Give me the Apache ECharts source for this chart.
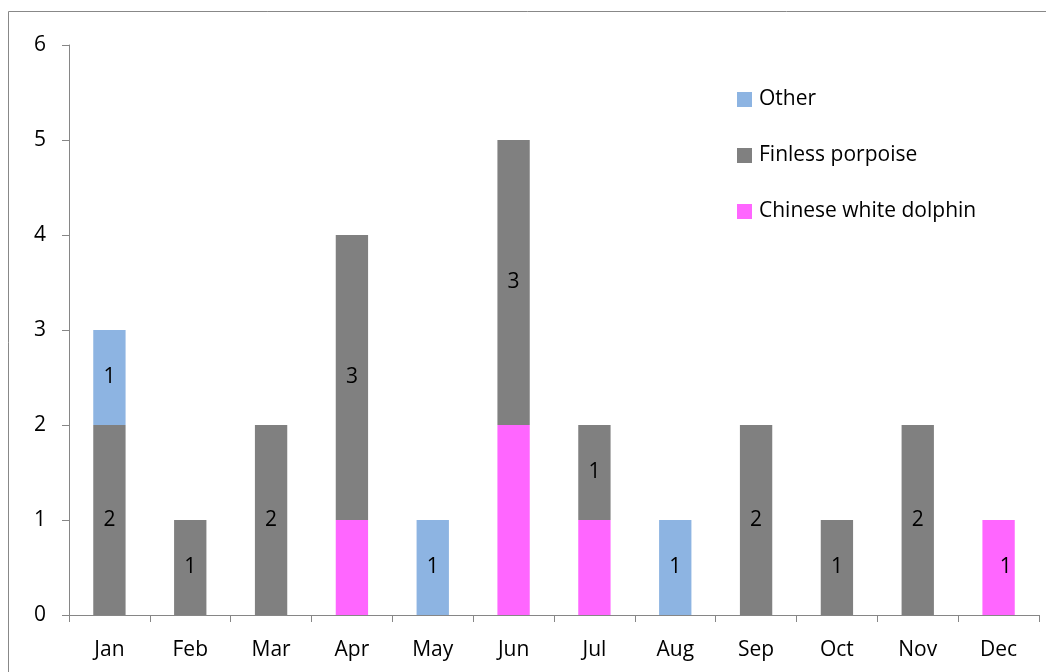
<!DOCTYPE html>
<html>
<head>
<meta charset="utf-8">
<script src="https://cdn.jsdelivr.net/npm/echarts@6/dist/echarts.min.js"></script>
<style>
  html, body { margin: 0; padding: 0; background: #fff; overflow: hidden; }
  #chart { width: 1046px; height: 672px; }
</style>
</head>
<body>
<div id="chart"></div>
<script>
const months = ['Jan', 'Feb', 'Mar', 'Apr', 'May', 'Jun', 'Jul', 'Aug', 'Sep', 'Oct', 'Nov', 'Dec']
const dolphin = [0, 0, 0, 1, 0, 2, 1, 0, 0, 0, 0, 1]
const porpoise = [2, 1, 2, 3, 0, 3, 1, 0, 2, 1, 2, 0]
const other = [1, 0, 0, 0, 1, 0, 0, 1, 0, 0, 0, 0]
// only the Dec dolphin bar carries a label in the original
const dolphinLabelled = [false, false, false, false, false, false, false, false, false, false, false, true]

const font = '"Open Sans", "Noto Sans", sans-serif'
const axisColor = '#868686'

const chart = echarts.init(document.getElementById('chart'))

function toData(values, labelled) {
  return values.map((v, i) => ({
    value: v === 0 ? '-' : v,
    label: { show: labelled ? labelled[i] : v > 0 }
  }))
}

const labelStyle = {
  show: true,
  color: '#000',
  fontFamily: font,
  fontSize: 21
}

chart.setOption({
  animation: false,
  graphic: [{
    type: 'polyline',
    shape: { points: [[8.5, 700], [8.5, 11.5], [1046, 11.5]] },
    style: { fill: 'none', stroke: '#888', lineWidth: 1 },
    silent: true
  }],
  grid: { left: 69, top: 45, right: 7, bottom: 57 },
  legend: {
    orient: 'vertical',
    left: 732,
    top: 84,
    itemGap: 35,
    itemWidth: 15,
    itemHeight: 15,
    icon: 'rect',
    data: ['Other', 'Finless porpoise', 'Chinese white dolphin'],
    textStyle: { fontFamily: font, fontSize: 21, color: '#000', padding: [0, 0, 0, 2] }
  },
  xAxis: {
    type: 'category',
    data: months,
    axisLine: { lineStyle: { color: axisColor } },
    axisTick: { show: true, length: 7, lineStyle: { color: axisColor } },
    axisLabel: { color: '#000', fontFamily: font, fontSize: 21, margin: 25 }
  },
  yAxis: {
    type: 'value',
    min: 0,
    max: 6,
    interval: 1,
    splitLine: { show: false },
    axisLine: { show: true, lineStyle: { color: axisColor } },
    axisTick: { show: true, length: 7, lineStyle: { color: axisColor } },
    axisLabel: { color: '#000', fontFamily: font, fontSize: 21, margin: 23 }
  },
  series: [
    {
      name: 'Chinese white dolphin',
      type: 'bar',
      stack: 'total',
      barWidth: '40%',
      itemStyle: { color: '#FF66FF' },
      label: Object.assign({}, labelStyle, { position: ['72%', '50%'], align: 'center', verticalAlign: 'middle' }),
      data: toData(dolphin, dolphinLabelled)
    },
    {
      name: 'Finless porpoise',
      type: 'bar',
      stack: 'total',
      itemStyle: { color: '#808080' },
      label: Object.assign({}, labelStyle, { position: 'inside' }),
      data: toData(porpoise)
    },
    {
      name: 'Other',
      type: 'bar',
      stack: 'total',
      itemStyle: { color: '#8DB4E2' },
      label: Object.assign({}, labelStyle, { position: 'inside' }),
      data: toData(other)
    }
  ]
})
</script>
</body>
</html>
